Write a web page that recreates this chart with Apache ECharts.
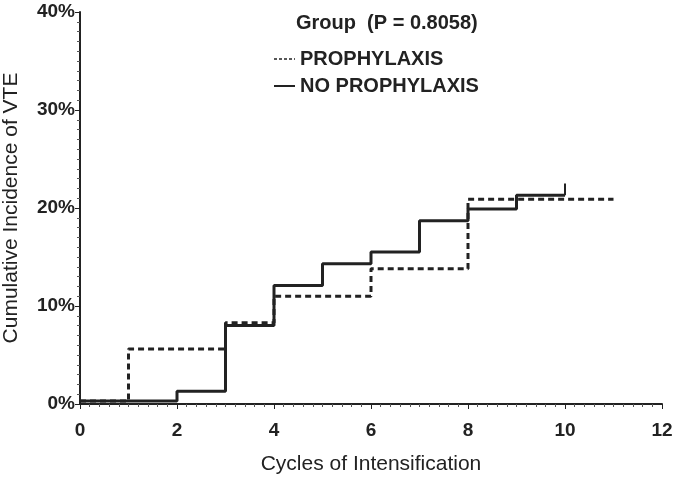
<!DOCTYPE html>
<html>
<head>
<meta charset="utf-8">
<script src="https://cdn.jsdelivr.net/npm/echarts@6/dist/echarts.min.js"></script>
<style>
    html, body { margin: 0; padding: 0; background: #fff; }
    #myChart { width: 680px; height: 477px; }
</style>
</head>
<body>
<div id="myChart"></div>
<script>
// step points: value holds from x onwards
var proX = [0, 1, 3, 4, 6, 8, 11];
var proY = [0.3, 5.6, 8.3, 11.0, 13.8, 20.9, 20.9];
var noX = [0, 2, 3, 4, 5, 6, 7, 8, 9, 10];
var noY = [0.3, 1.3, 8.0, 12.1, 14.3, 15.5, 18.7, 19.9, 21.3, 21.3];
// censor mark on the last NO PROPHYLAXIS point
var censorX = [10, 10];
var censorY = [21.3, 22.5];

var seriesNames = ['PROPHYLAXIS', 'NO PROPHYLAXIS'];
var titleText = 'Group  (P = 0.8058)';

function pairs(xs, ys) {
    var out = [];
    for (var i = 0; i < xs.length; i++) {
        out.push([xs[i], ys[i]]);
    }
    return out;
}

window.onload = function () {
    var myChart = echarts.init(document.getElementById('myChart'));
    var ink = '#222';
    var font = 'Liberation Sans';

    var option = {
        animation: false,
        title: {
            text: titleText,
            left: 291,
            top: 8,
            textStyle: {fontFamily: font, fontSize: 20, fontWeight: 'bold', color: ink}
        },
        legend: {
            data: [
                {name: seriesNames[0], lineStyle: {width: 1.5, type: [3, 2]}},
                {name: seriesNames[1], lineStyle: {width: 2}}
            ],
            orient: 'vertical',
            left: 268,
            top: 44,
            itemWidth: 21,
            itemHeight: 14,
            itemGap: 7,
            itemStyle: {opacity: 0},
            textStyle: {fontFamily: font, fontSize: 20, fontWeight: 'bold', color: ink}
        },
        grid: {
            left: 80,
            right: 18,
            top: 12,
            bottom: 73,
            outerBoundsMode: 'none'
        },
        xAxis: {
            type: 'value',
            min: 0,
            max: 12,
            interval: 2,
            name: 'Cycles of Intensification',
            nameLocation: 'middle',
            nameGap: 50,
            nameTextStyle: {fontFamily: font, fontSize: 21, color: ink},
            axisLine: {lineStyle: {color: ink, width: 2}},
            axisTick: {length: 5, lineStyle: {color: ink, width: 1}},
            minorTick: {show: true, splitNumber: 10, length: 3, lineStyle: {color: '#555'}},
            splitLine: {show: false},
            axisLabel: {fontFamily: font, fontSize: 19, fontWeight: 'bold', color: ink, margin: 17}
        },
        yAxis: {
            type: 'value',
            min: 0,
            max: 40,
            interval: 10,
            name: 'Cumulative Incidence of VTE',
            nameLocation: 'middle',
            nameGap: 58,
            nameTextStyle: {fontFamily: font, fontSize: 21, color: ink},
            axisLine: {show: true, lineStyle: {color: ink, width: 2}},
            axisTick: {show: true, length: 5, lineStyle: {color: ink, width: 1}},
            minorTick: {show: true, splitNumber: 10, length: 3, lineStyle: {color: '#555'}},
            splitLine: {show: false},
            axisLabel: {
                formatter: '{value}%',
                fontFamily: font, fontSize: 19, fontWeight: 'bold', color: ink, margin: 5
            }
        },
        series: [
            {
                name: seriesNames[0],
                type: 'line',
                step: 'end',
                symbol: 'none',
                data: pairs(proX, proY),
                lineStyle: {color: ink, width: 3, type: [6, 4]},
                itemStyle: {color: ink},
                z: 3
            },
            {
                name: seriesNames[1],
                type: 'line',
                step: 'end',
                symbol: 'none',
                data: pairs(noX, noY),
                lineStyle: {color: ink, width: 3},
                itemStyle: {color: ink},
                z: 4
            },
            {
                name: 'censor',
                type: 'line',
                symbol: 'none',
                data: pairs(censorX, censorY),
                lineStyle: {color: ink, width: 2},
                z: 4
            }
        ]
    };

    myChart.setOption(option);
};
</script>
</body>
</html>
